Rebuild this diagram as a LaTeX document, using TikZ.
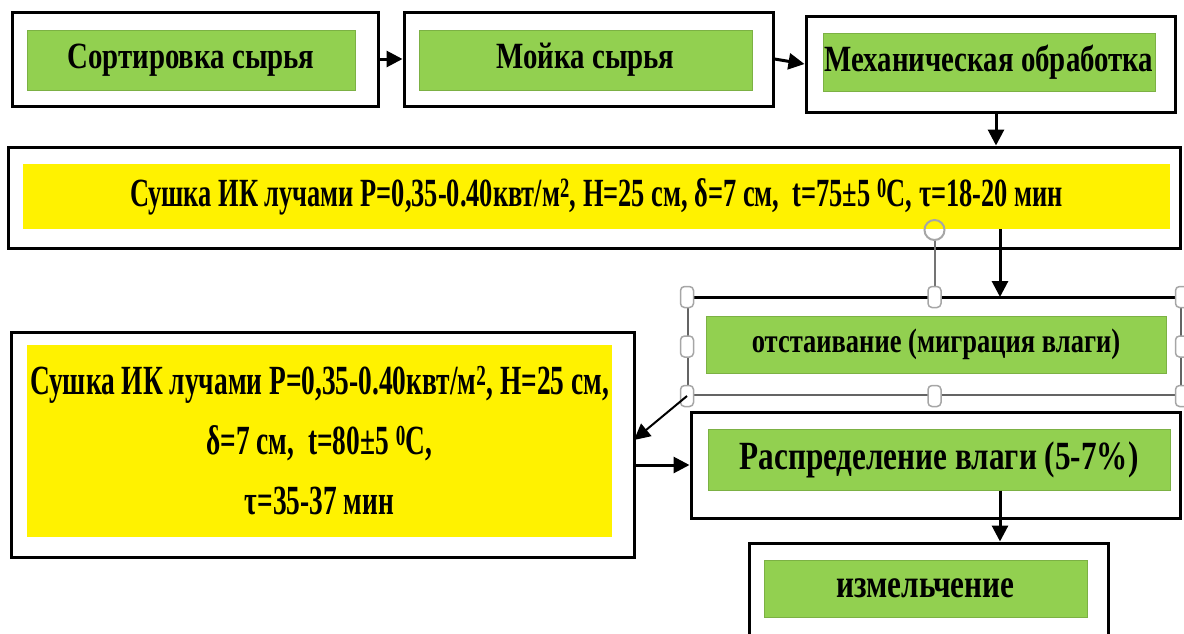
\documentclass[tikz,border=0pt]{standalone}
\usepackage{fontspec}
\setmainfont{Liberation Serif}
\newfontfamily\greenfont[FakeStretch=0.78]{Liberation Serif}
\newfontfamily\yellowfont[FakeStretch=0.66]{Liberation Serif}
\usepackage{tikz}
\usetikzlibrary{positioning,arrows.meta}
\usepackage{xcolor}
\definecolor{leafgreen}{HTML}{92D050}
\definecolor{handlegray}{HTML}{A6A6A6}

\tikzset{
    frame/.style={draw=black, line width=3pt, inner sep=0pt},
    selframe/.style={draw=handlegray!60!black, line width=2pt, inner sep=0pt},
    greenlabel/.style={fill=leafgreen, draw=leafgreen!85!black, line width=1pt, inner sep=0pt,
        font=\greenfont\bfseries\fontsize{#1}{#1}\selectfont},
    greenlabel/.default=37,
    yellowlabel/.style={fill=yellow, inner sep=0pt, align=center,
        font=\yellowfont\bfseries\fontsize{#1}{60}\selectfont},
    yellowlabel/.default=40,
    handle/.style={draw=handlegray, fill=white, rounded corners=4pt, line width=1.5pt,
        minimum width=13pt, minimum height=21pt, inner sep=0pt},
    rothandle/.style={circle, draw=handlegray, line width=2pt, minimum size=20pt, inner sep=0pt},
    arr/.style={line width=3pt, -{Triangle[length=16pt,width=16pt]}}
}

\begin{document}
\begin{tikzpicture}[x=1pt, y=-1pt]
    \useasboundingbox (0,0) rectangle (1184,633);
    \clip (0,0) rectangle (1184,633);

    % outer frames
    \node[frame, minimum width=366pt, minimum height=94pt] (Sorting) at (195,59) {};
    \node[frame, minimum width=369pt, minimum height=94pt] (Washing) at (588.5,59) {};
    \node[frame, minimum width=369pt, minimum height=96pt] (Mechanical) at (990.5,64) {};
    \node[frame, minimum width=1172pt, minimum height=101pt] (DryingShort) at (594,197.5) {};
    \node[selframe, minimum width=493pt, minimum height=97pt] (Settling) at (934.5,346.5) {};
    \draw[line width=3pt] (Settling.north west) -- (Settling.north east);
    \node[frame, minimum width=623pt, minimum height=225pt] (DryingLong) at (322.5,444.5) {};
    \node[frame, minimum width=489pt, minimum height=106pt] (Distribution) at (935.5,465) {};
    \node[frame, minimum width=359pt, minimum height=110pt] (Grinding) at (928.5,598) {};

    % labels
    \node[greenlabel, minimum width=328pt, minimum height=60pt] (SortingLabel) at (191,60) {Сортировка сырья};
    \node[greenlabel, minimum width=333pt, minimum height=60pt] (WashingLabel) at (585.5,60) {Мойка сырья};
    \node[greenlabel, minimum width=332pt, minimum height=58pt] (MechanicalLabel) at (989,62) {Механическая обработка};
    \node[yellowlabel, minimum width=1147pt, minimum height=65pt] (DryingShortLabel) at (596.5,196.5)
        {Сушка ИК лучами P=0,35-0.40квт/м\textsuperscript{2}, H=25 см, δ=7 см,\ \ t=75±5 \textsuperscript{0}С, τ=18-20 мин};
    \node[greenlabel=34, minimum width=460pt, minimum height=57pt] (SettlingLabel) at (936,344.5) {отстаивание (миграция влаги)};
    \node[yellowlabel=41.5, minimum width=585pt, minimum height=192pt] (DryingLongLabel) at (319.5,441)
        {Сушка ИК лучами P=0,35-0.40квт/м\textsuperscript{2}, H=25 см,\\ δ=7 см,\ \ t=80±5 \textsuperscript{0}С,\\ τ=35-37 мин};
    \node[greenlabel=40, minimum width=462pt, minimum height=61pt] (DistributionLabel) at (939,459.5) {Распределение влаги (5-7\%)};
    \node[greenlabel=40, minimum width=323pt, minimum height=57pt] (GrindingLabel) at (925.5,588.5) {измельчение};

    % selection handles
    \node[rothandle, above=56pt of Settling.north] (Rotate) {};
    \draw[handlegray!70!black, line width=2pt] (Rotate) -- (Settling.north);
    \foreach \a in {north west, north, north east, west, east, south west, south, south east}
        \node[handle] at (Settling.\a) {};

    % arrows
    \coordinate (TopColumn) at (996,0);
    \coordinate (RightColumn) at (1000,0);
    \coordinate (DiagonalEnd) at (634,440);
    \draw[arr] (Sorting) -- (Washing);
    \draw[arr] (Washing.east) -- (Mechanical.west);
    \draw[arr] (Mechanical.south -| TopColumn) -- (DryingShort.north -| TopColumn);
    \draw[arr] (DryingShortLabel.south -| RightColumn) -- (Settling.north -| RightColumn);
    \draw[arr, line width=2pt] (Settling.south west) -- (DiagonalEnd);
    \draw[arr] (DryingLong.east |- Distribution.west) -- (Distribution.west);
    \draw[arr] (DistributionLabel.south -| RightColumn) -- (Grinding.north -| RightColumn);
\end{tikzpicture}
\end{document}
